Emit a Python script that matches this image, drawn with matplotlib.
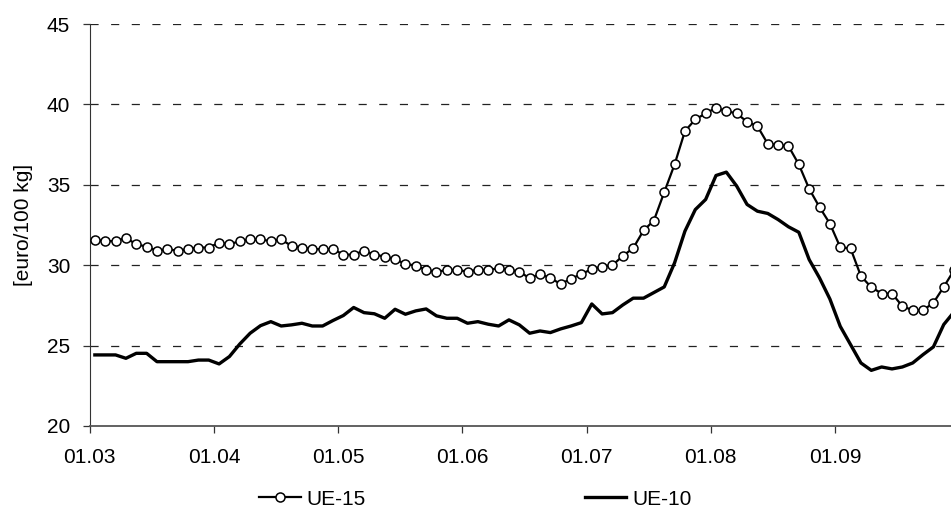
import numpy as np
import matplotlib
matplotlib.use('Agg')
import matplotlib.pyplot as plt

plt.rcParams['font.family'] = ['Liberation Sans', 'DejaVu Sans']

# weekly-ish quotations, euro/100 kg (last value lies past the right edge)
ue15 = [31.58, 31.5, 31.5, 31.7, 31.3, 31.16, 30.9, 31.0, 30.9, 31.0,
        31.1, 31.1, 31.4, 31.3, 31.5, 31.6, 31.6, 31.5, 31.6, 31.2,
        31.1, 31.0, 31.0, 31.0, 30.66, 30.66, 30.9, 30.66, 30.54, 30.37,
        30.08, 29.98, 29.71, 29.58, 29.71, 29.71, 29.6, 29.71, 29.71, 29.81,
        29.71, 29.6, 29.19, 29.46, 29.19, 28.84, 29.15, 29.46, 29.75, 29.92,
        30.0, 30.58, 31.06, 32.16, 32.78, 34.54, 36.27, 38.34, 39.07, 39.44,
        39.79, 39.59, 39.44, 38.92, 38.65, 37.55, 37.47, 37.41, 36.27, 34.75,
        33.61, 32.59, 31.12, 31.04, 29.32, 28.63, 28.24, 28.24, 27.45, 27.2,
        27.2, 27.66, 28.65, 29.7]
ue10 = [24.42, 24.42, 24.42, 24.21, 24.52, 24.52, 24.0, 24.0, 24.0, 24.0,
        24.1, 24.1, 23.86, 24.32, 25.1, 25.77, 26.24, 26.49, 26.22, 26.29,
        26.39, 26.22, 26.22, 26.56, 26.87, 27.37, 27.05, 26.98, 26.7, 27.26,
        26.95, 27.16, 27.28, 26.85, 26.7, 26.7, 26.39, 26.49, 26.33, 26.22,
        26.6, 26.29, 25.77, 25.91, 25.81, 26.04, 26.22, 26.43, 27.59, 26.97,
        27.05, 27.53, 27.95, 27.95, 28.3, 28.65, 30.15, 32.12, 33.46, 34.09,
        35.58, 35.79, 34.92, 33.78, 33.36, 33.22, 32.84, 32.39, 32.05, 30.35,
        29.21, 27.9, 26.2, 25.06, 23.92, 23.46, 23.67, 23.55, 23.67, 23.92,
        24.44, 24.92, 26.31, 27.1]
month_labels = ['01.03', '01.04', '01.05', '01.06', '01.07', '01.08', '01.09']
per_month = 12

x = np.arange(len(ue15)) + 0.5

fig = plt.figure(figsize=(9.51, 5.12), dpi=100)
ax = fig.add_axes([0.0943, 0.168, 0.9057, 0.785])

for v in [25, 30, 35, 40, 45]:
    ax.axhline(v, color='#222222', lw=0.9, ls=(0, (6.5, 10)), zorder=1)

ax.plot(x, ue15, color='black', lw=1.6, marker='o', ms=6.5, mfc='white',
        mec='black', mew=1.1, label='UE-15', zorder=3)
ax.plot(x, ue10, color='black', lw=2.4, label='UE-10', zorder=3)

ax.set_xlim(0, 83.2)
ax.set_ylim(20, 45)
ax.set_yticks([20, 25, 30, 35, 40, 45])
ax.set_xticks(np.arange(len(month_labels)) * per_month)
ax.set_xticklabels(month_labels)
ax.tick_params(labelsize=15, length=5, width=0.9, color='#333333')
ax.tick_params(axis='x', pad=11)
ax.tick_params(axis='y', pad=9)

for s in ['top', 'right']:
    ax.spines[s].set_visible(False)
ax.spines['left'].set_color('#333333')
ax.spines['bottom'].set_color('#555555')
ax.spines['bottom'].set_linewidth(1.3)

ax.set_ylabel('[euro/100 kg]', fontsize=15)
ax.yaxis.set_label_coords(-0.066, 0.5)

ax.legend(loc='center', bbox_to_anchor=(0.5, 0.025), bbox_transform=fig.transFigure,
          ncol=2, frameon=False, fontsize=15, handlelength=2.0,
          handletextpad=0.3, columnspacing=10.5)

fig.savefig('out.png', dpi=100)
